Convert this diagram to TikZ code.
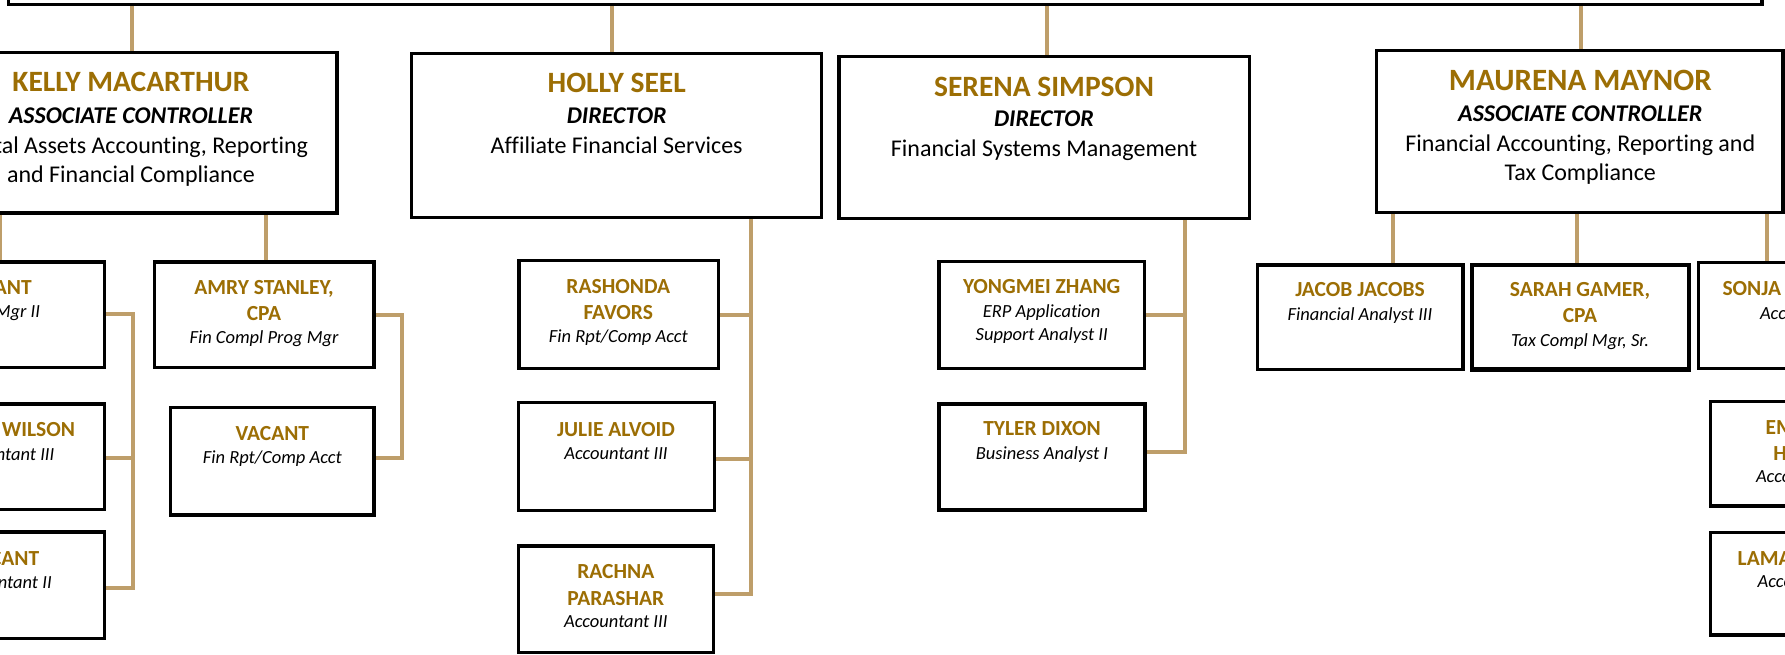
\documentclass[tikz,border=0pt]{standalone}
\usepackage{fontspec}
\setmainfont{Carlito}[Ligatures=NoCommon]
\usetikzlibrary{calc}
\definecolor{namegold}{RGB}{156,110,4}
\definecolor{conntan}{RGB}{190,158,106}
\pgfdeclarelayer{back}
\pgfdeclarelayer{bg}
\pgfsetlayers{back,bg,main}
\newcommand\orgbox[6][]{\node[box, #1, minimum width={(#5)-(#3)}, minimum height={(#6)-(#4)}] (#2) at ({((#3)+(#5))/2},{((#4)+(#6))/2}) {};}
\begin{document}
\begin{tikzpicture}[x=1pt,y=-1pt,
  box/.style={draw=black, line width=3.5pt, fill=white, inner sep=0pt, outer sep=0pt, rectangle},
  conn/.style={draw=conntan, line width=4pt},
  txt/.style={inner sep=0pt, outer sep=0pt, anchor=base},
  bigname/.style={txt, text=namegold, font=\fontsize{29.5}{31}\selectfont\bfseries},
  bigtitle/.style={txt, font=\fontsize{24}{26}\selectfont\bfseries\itshape},
  bigdesc/.style={txt, font=\fontsize{24}{26}\selectfont},
  pname/.style={txt, text=namegold, font=\fontsize{21.5}{24}\selectfont\bfseries},
  psub/.style={txt, font=\fontsize{18.5}{20}\selectfont\itshape}]
\useasboundingbox (0,0) rectangle (1785,655);
\clip (0,0) rectangle (1785,655);
\begin{pgfonlayer}{back}
\fill[white] (0,0) rectangle (1785,655);
\end{pgfonlayer}

% boxes
\orgbox{top}{8.5}{-100}{1762}{4.5}
\orgbox{kelly}{-75}{52.7}{337}{213}
\orgbox{holly}{411.7}{53.3}{821.7}{217.3}
\orgbox{serena}{839}{56.7}{1249.7}{218.3}
\orgbox{maurena}{1376.6}{50.7}{1783}{212.7}
\orgbox{lone}{-100}{262}{104.3}{367.7}
\orgbox{ltwo}{-100}{404}{104.3}{509.3}
\orgbox{lthree}{-100}{532}{104.3}{638.3}
\orgbox{amry}{154.3}{262}{374}{367.7}
\orgbox{vacant}{170.7}{407.7}{374}{515}
\orgbox{rashonda}{519}{260.7}{718.5}{368.3}
\orgbox{julie}{518.3}{402.3}{714.3}{510.3}
\orgbox{rachna}{518.3}{546}{713.3}{652.7}
\orgbox{yongmei}{939}{261.7}{1144.3}{368.3}
\orgbox{tyler}{939}{404}{1145}{510}
\orgbox{jacob}{1257.5}{265}{1463.2}{369.3}
\orgbox[line width=4.3pt]{sarah}{1471.8}{265}{1689.1}{369.5}
\orgbox{sonja}{1698.5}{262.7}{1900}{368.3}
\orgbox{em}{1710.7}{401.7}{1910}{506}
\orgbox{lama}{1710.7}{532.7}{1910}{635}

% connector coordinates
\coordinate (cK) at (131.7,0);
\coordinate (cH) at (612.3,0);
\coordinate (cS) at (1047.3,0);
\coordinate (cM) at (1580.6,0);
\coordinate (cKL) at (-0.5,0);
\coordinate (cKA) at (265.7,0);
\coordinate (cMJ) at (1393,0);
\coordinate (cMS) at (1577.3,0);
\coordinate (cMN) at (1767,0);
\coordinate (bL1) at (132.7,314);
\coordinate (bL2) at (132.7,458.3);
\coordinate (bL3) at (132.7,588.3);
\coordinate (aB1) at (402.3,315);
\coordinate (aB2) at (402.3,458.3);
\coordinate (hB) at (751.2,0);
\coordinate (hB1) at (751.2,315);
\coordinate (hB2) at (751.2,459.3);
\coordinate (hB3) at (751.2,594.3);
\coordinate (sB) at (1184.5,0);
\coordinate (sB1) at (1184.5,315);
\coordinate (sB2) at (1184.5,452);

\begin{pgfonlayer}{bg}
\draw[conn] (top.south -| cK) -- (kelly.north -| cK);
\draw[conn] (top.south -| cH) -- (holly.north -| cH);
\draw[conn] (top.south -| cS) -- (serena.north -| cS);
\draw[conn] (top.south -| cM) -- (maurena.north -| cM);
\draw[conn] (kelly.south -| cKL) -- (lone.north -| cKL);
\draw[conn] (kelly.south -| cKA) -- (amry.north -| cKA);
\draw[conn] (maurena.south -| cMJ) -- (jacob.north -| cMJ);
\draw[conn] (maurena.south -| cMS) -- (sarah.north -| cMS);
\draw[conn] (maurena.south -| cMN) -- (sonja.north -| cMN);
\draw[conn] (lone.east |- bL1) -- (bL1) -- (bL3) -- (lthree.east |- bL3);
\draw[conn] (ltwo.east |- bL2) -- (bL2);
\draw[conn] (amry.east |- aB1) -- (aB1) -- (aB2) -- (vacant.east |- aB2);
\draw[conn] (holly.south -| hB) -- (hB3) -- (rachna.east |- hB3);
\draw[conn] (rashonda.east |- hB1) -- (hB1);
\draw[conn] (julie.east |- hB2) -- (hB2);
\draw[conn] (serena.south -| sB) -- (sB2) -- (tyler.east |- sB2);
\draw[conn] (yongmei.east |- sB1) -- (sB1);
\end{pgfonlayer}

% big box texts
\node[bigname] (kellyN) at (131,91.7) {KELLY MACARTHUR};
\node[bigtitle] (kellyT) at (131,123.3) {ASSOCIATE CONTROLLER};
\node[bigdesc, anchor=base east] (kellyD1) at (308,154) {tal Assets Accounting, Reporting};
\node[bigdesc] (kellyD2) at (131,182.3) {and Financial Compliance};

\node[bigname] (hollyN) at (616.7,92.7) {HOLLY SEEL};
\node[bigtitle] (hollyT) at (616.7,124) {DIRECTOR};
\node[bigdesc] (hollyD) at (616.7,154) {Affiliate Financial Services};

\node[bigname] (serenaN) at (1044,96.7) {SERENA SIMPSON};
\node[bigtitle] (serenaT) at (1044,126.7) {DIRECTOR};
\node[bigdesc] (serenaD) at (1044,156.7) {Financial Systems Management};

\node[bigname, font=\fontsize{31}{33}\selectfont\bfseries] (maurenaN) at (1580.3,90.7) {MAURENA MAYNOR};
\node[bigtitle] (maurenaT) at (1580.3,121.7) {ASSOCIATE CONTROLLER};
\node[bigdesc] (maurenaD1) at (1580.3,151.7) {Financial Accounting, Reporting and};
\node[bigdesc] (maurenaD2) at (1580.3,181) {Tax Compliance};

% small box texts
\node[pname, anchor=base east] (loneN) at (31.7,294) {ANT};
\node[psub, anchor=base east] (loneS) at (40,317) {Mgr II};
\node[pname, anchor=base east] (ltwoN) at (75,436.7) {WILSON};
\node[psub, anchor=base east] (ltwoS) at (54.3,460) {ntant III};
\node[pname, anchor=base east] (lthreeN) at (39.3,565) {CANT};
\node[psub, anchor=base east] (lthreeS) at (51.7,588.3) {ntant II};

\node[pname] (amryN1) at (264,294.7) {AMRY STANLEY,};
\node[pname] (amryN2) at (264,320) {CPA};
\node[psub] (amryS) at (264,343.3) {Fin Compl Prog Mgr};

\node[pname] (vacantN) at (272.3,440) {VACANT};
\node[psub] (vacantS) at (272.3,463.3) {Fin Rpt/Comp Acct};

\node[pname] (rashN1) at (618.3,293.3) {RASHONDA};
\node[pname] (rashN2) at (618.3,319.3) {FAVORS};
\node[psub] (rashS) at (618.3,342.7) {Fin Rpt/Comp Acct};

\node[pname] (julieN) at (616,436) {JULIE ALVOID};
\node[psub] (julieS) at (616,459.3) {Accountant III};

\node[pname] (rachN1) at (615.8,578.3) {RACHNA};
\node[pname] (rachN2) at (615.8,605) {PARASHAR};
\node[psub] (rachS) at (615.8,627.7) {Accountant III};

\node[pname] (yongN) at (1041.7,293.3) {YONGMEI ZHANG};
\node[psub] (yongS1) at (1041.7,317.7) {ERP Application};
\node[psub] (yongS2) at (1041.7,340) {Support Analyst II};

\node[pname] (tylerN) at (1042,435) {TYLER DIXON};
\node[psub] (tylerS) at (1042,459.3) {Business Analyst I};

\node[pname] (jacobN) at (1360,296.7) {JACOB JACOBS};
\node[psub] (jacobS) at (1360,320) {Financial Analyst III};

\node[pname] (sarahN1) at (1580,296.7) {SARAH GAMER,};
\node[pname] (sarahN2) at (1580,322.7) {CPA};
\node[psub] (sarahS) at (1580,346) {Tax Compl Mgr, Sr.};

\node[pname, anchor=base west] (sonjaN) at (1722.5,295) {SONJA};
\node[psub, anchor=base west] (sonjaS) at (1760,319) {Accountant};

\node[pname, anchor=base west] (emN1) at (1765.7,434.3) {EM};
\node[pname, anchor=base west] (emN2) at (1773.3,460) {H};
\node[psub, anchor=base west] (emS) at (1756,482.3) {Accountant};

\node[pname, anchor=base west] (lamaN) at (1737.7,565) {LAMA};
\node[psub, anchor=base west] (lamaS) at (1757.7,587.7) {Accountant};
\end{tikzpicture}
\end{document}
